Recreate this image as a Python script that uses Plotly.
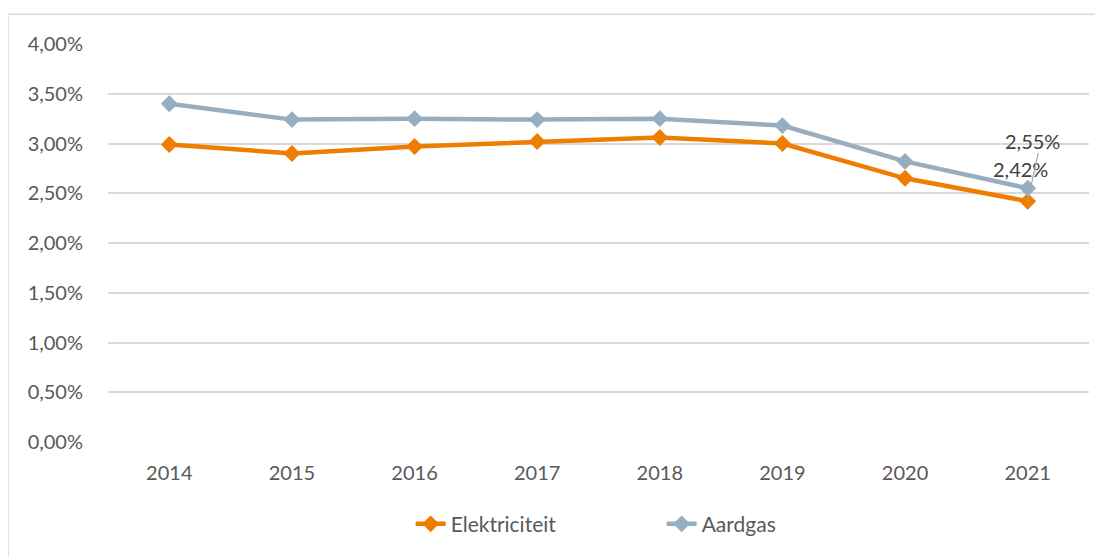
import plotly.graph_objects as go

years = ["2014", "2015", "2016", "2017", "2018", "2019", "2020", "2021"]
elektriciteit = [2.99, 2.90, 2.97, 3.02, 3.06, 3.00, 2.65, 2.42]
aardgas = [3.40, 3.24, 3.25, 3.24, 3.25, 3.18, 2.82, 2.55]
y_ticks = [0, 0.5, 1.0, 1.5, 2.0, 2.5, 3.0, 3.5, 4.0]
y_tick_text = ["0,00%", "0,50%", "1,00%", "1,50%", "2,00%", "2,50%", "3,00%", "3,50%", "4,00%"]

ORANGE = "#EF7D00"
GREY = "#97AEC0"
TEXT = "#595959"
FONT = "Lato"
FS = 20

fig = go.Figure()
fig.add_trace(go.Scatter(
    x=years, y=elektriciteit, name="Elektriciteit", mode="lines+markers",
    line=dict(color=ORANGE, width=4.5), marker=dict(symbol="diamond", size=13, color=ORANGE),
))
fig.add_trace(go.Scatter(
    x=years, y=aardgas, name="Aardgas", mode="lines+markers",
    line=dict(color=GREY, width=4.5), marker=dict(symbol="diamond", size=13, color=GREY),
))

def fmt(v):
    return f"{v:.2f}".replace(".", ",") + "%"

last = len(years) - 1
fig.add_annotation(x=last, y=aardgas[-1], text=fmt(aardgas[-1]), showarrow=False,
                   xshift=5, yshift=47, font=dict(family=FONT, size=FS, color="#404040"))
fig.add_annotation(x=last, y=elektriciteit[-1], text=fmt(elektriciteit[-1]), showarrow=False,
                   xshift=-7, yshift=32, font=dict(family=FONT, size=FS, color="#404040"))
fig.add_annotation(x=last, y=elektriciteit[-1], text=" ", showarrow=True,
                   arrowhead=0, arrowwidth=1.2, arrowcolor="#A6A6A6", ax=11, ay=-50,
                   font=dict(size=1))

fig.add_shape(type="rect", xref="paper", yref="paper", x0=-0.102, x1=1.05, y0=-0.35, y1=1.075,
              line=dict(color="#D9D9D9", width=1.5), fillcolor="rgba(0,0,0,0)", layer="below")

fig.update_layout(
    width=1095, height=549,
    margin=dict(l=100, r=14, t=36, b=113),
    paper_bgcolor="white", plot_bgcolor="white",
    font=dict(family=FONT, size=FS, color=TEXT),
    showlegend=True,
    legend=dict(orientation="h", x=0.3085, xanchor="left", y=-0.155, yanchor="top",
                entrywidth=206, entrywidthmode="pixels",
                font=dict(family=FONT, size=21, color=TEXT)),
    hovermode=False,
    xaxis=dict(type="category", range=[-0.5, 7.5], showgrid=False, zeroline=False, showline=False,
               ticks="", ticklabelstandoff=17, tickfont=dict(family=FONT, size=FS, color=TEXT)),
    yaxis=dict(range=[0, 4], tickvals=y_ticks, ticktext=y_tick_text, showgrid=True,
               gridcolor="#D9D9D9", gridwidth=1.5, zeroline=False, showline=False,
               ticks="", ticklabelstandoff=24, tickfont=dict(family=FONT, size=FS, color=TEXT)),
)

fig.write_html("out.html")
